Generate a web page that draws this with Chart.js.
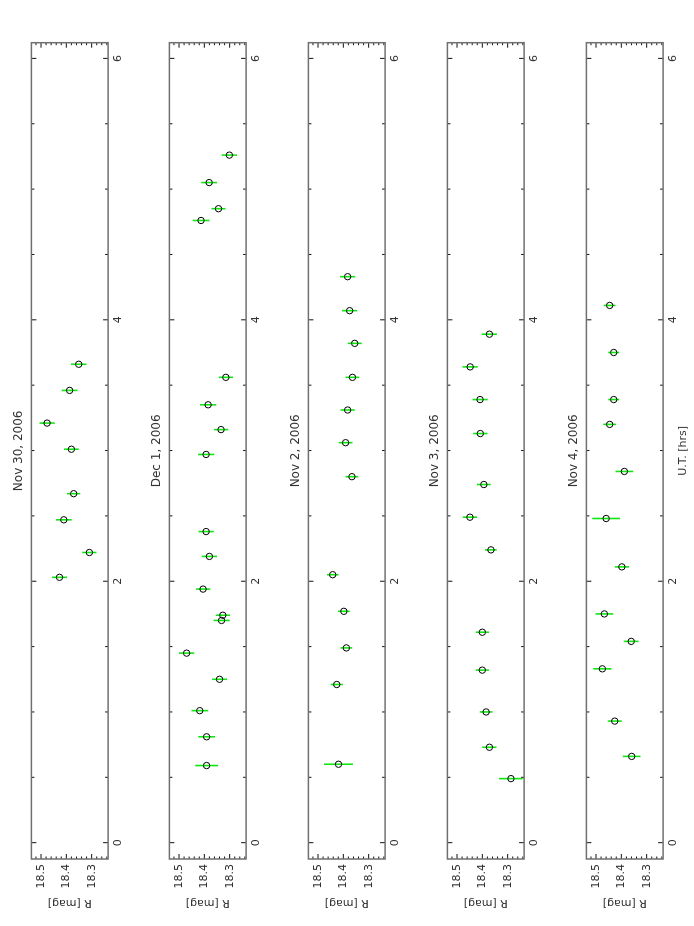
<!DOCTYPE html>
<html>
<head>
<meta charset="utf-8">
<script src="https://cdn.jsdelivr.net/npm/chart.js@4.4.1/dist/chart.umd.min.js"></script>
<style>
  html, body { margin: 0; padding: 0; background: #fff; overflow: hidden; }
  /* the figure is laid out landscape and turned a quarter turn */
  #page {
    position: absolute; left: 0; top: 0;
    width: 926px; height: 694px;
    transform-origin: 0 0;
    transform: translate(0, 926px) rotate(-90deg);
  }
  #page canvas { position: absolute; left: 0; }
</style>
</head>
<body>
<div id="page"></div>
<script>
const nights = ["Nov 30, 2006", "Dec 1, 2006", "Nov 2, 2006", "Nov 3, 2006", "Nov 4, 2006"];

const utNov30 = [3.66, 3.46, 3.21, 3.01, 2.67, 2.47, 2.22, 2.03];
const rNov30 = [18.351, 18.387, 18.476, 18.380, 18.371, 18.410, 18.309, 18.427];
const errNov30 = [0.031, 0.031, 0.030, 0.029, 0.026, 0.031, 0.028, 0.030];

const utDec1 = [5.26, 5.05, 4.85, 4.76, 3.56, 3.35, 3.16, 2.97, 2.38, 2.19, 1.94, 1.74, 1.70, 1.45, 1.25, 1.01, 0.81, 0.59];
const rDec1 = [18.301, 18.381, 18.344, 18.413, 18.315, 18.385, 18.334, 18.393, 18.393, 18.380, 18.405, 18.327, 18.332, 18.470, 18.340, 18.418, 18.391, 18.391];
const errDec1 = [0.030, 0.031, 0.028, 0.033, 0.028, 0.032, 0.028, 0.032, 0.030, 0.030, 0.028, 0.028, 0.032, 0.030, 0.030, 0.033, 0.033, 0.045];

const utNov2 = [4.33, 4.07, 3.82, 3.56, 3.31, 3.06, 2.80, 2.05, 1.77, 1.49, 1.21, 0.60];
const rNov2 = [18.383, 18.375, 18.355, 18.364, 18.383, 18.391, 18.366, 18.442, 18.398, 18.388, 18.426, 18.419];
const errNov2 = [0.030, 0.030, 0.028, 0.027, 0.028, 0.027, 0.025, 0.023, 0.023, 0.023, 0.024, 0.057];

const utNov3 = [3.89, 3.64, 3.39, 3.13, 2.74, 2.49, 2.24, 1.61, 1.32, 1.00, 0.73, 0.49];
const rNov3 = [18.372, 18.448, 18.409, 18.408, 18.394, 18.449, 18.366, 18.400, 18.400, 18.385, 18.372, 18.287];
const errNov3 = [0.030, 0.030, 0.030, 0.028, 0.027, 0.028, 0.023, 0.026, 0.026, 0.025, 0.028, 0.047];

const utNov4 = [4.11, 3.75, 3.39, 3.20, 2.84, 2.48, 2.11, 1.75, 1.54, 1.33, 0.93, 0.66];
const rNov4 = [18.446, 18.430, 18.430, 18.446, 18.388, 18.460, 18.398, 18.467, 18.361, 18.475, 18.426, 18.359];
const errNov4 = [0.023, 0.022, 0.022, 0.025, 0.035, 0.055, 0.028, 0.035, 0.029, 0.036, 0.028, 0.035];

const utTicks = [0, 2, 4, 6];
const rTicks = [18.3, 18.4, 18.5];

const panels = [
  [utNov30, rNov30, errNov30],
  [utDec1, rDec1, errDec1],
  [utNov2, rNov2, errNov2],
  [utNov3, rNov3, errNov3],
  [utNov4, rNov4, errNov4],
];

Chart.defaults.font.family = "'DejaVu Sans', sans-serif";
Chart.defaults.color = "#333";

const textFont = { family: "'DejaVu Sans', sans-serif", size: 11 };

// green R error bars, under the circles
const errorBars = {
  id: "errorBars",
  beforeDatasetsDraw(chart) {
    const { ctx, scales: { x, y } } = chart;
    const ds = chart.data.datasets[0];
    ctx.save();
    ctx.strokeStyle = "#10e610";
    ctx.lineWidth = 1.6;
    ctx.beginPath();
    ds.data.forEach((p, i) => {
      const px = x.getPixelForValue(p.x);
      ctx.moveTo(px, y.getPixelForValue(p.y - ds.err[i]));
      ctx.lineTo(px, y.getPixelForValue(p.y + ds.err[i]));
    });
    ctx.stroke();
    ctx.restore();
  },
};

// box with inward ticks on all four sides
const frame = {
  id: "frame",
  afterDraw(chart) {
    const { ctx, chartArea: a, scales: { x, y } } = chart;
    ctx.save();
    ctx.strokeStyle = "#111";
    ctx.lineWidth = 1;
    ctx.beginPath();
    for (let i = 0; i <= 12; i++) {
      const t = i * 0.5;
      const px = x.getPixelForValue(t);
      const len = utTicks.includes(t) ? 5 : 3;
      ctx.moveTo(px, a.top);
      ctx.lineTo(px, a.top + len);
      ctx.moveTo(px, a.bottom);
      ctx.lineTo(px, a.bottom - len);
    }
    for (let i = 0; i <= 14; i++) {
      const v = 18.24 + i * 0.02;
      const py = y.getPixelForValue(v);
      const major = rTicks.some((m) => Math.abs(m - v) < 0.001);
      const len = major ? 5 : 2.5;
      ctx.moveTo(a.left, py);
      ctx.lineTo(a.left + len, py);
      ctx.moveTo(a.right, py);
      ctx.lineTo(a.right - len, py);
    }
    ctx.stroke();
    ctx.strokeStyle = "#707070";
    ctx.lineWidth = 1.5;
    ctx.strokeRect(a.left, a.top, a.right - a.left, a.bottom - a.top);
    ctx.restore();
  },
};

const page = document.getElementById("page");

panels.forEach(([ut, r, err], k) => {
  const boxTop = 31 + 138.75 * k;
  const canvas = document.createElement("canvas");
  canvas.width = 926;
  canvas.height = 136;
  canvas.style.top = boxTop - 22.4 + "px";
  page.appendChild(canvas);

  new Chart(canvas, {
    type: "scatter",
    data: {
      datasets: [
        {
          data: ut.map((u, i) => ({ x: u, y: r[i] })),
          err: err,
          pointRadius: 3.2,
          pointBorderWidth: 1,
          pointBorderColor: "#000",
          pointBackgroundColor: "rgba(0,0,0,0)",
        },
      ],
    },
    options: {
      responsive: false,
      animation: false,
      layout: { padding: { left: 0, right: 42.7, top: 0, bottom: 0 } },
      plugins: {
        legend: { display: false },
        tooltip: { enabled: false },
        title: {
          display: true,
          text: nights[k],
          fullSize: false,
          color: "#333",
          font: { size: 12, weight: "normal" },
          padding: { top: 3, bottom: 5 },
        },
      },
      scales: {
        x: {
          type: "linear",
          min: -0.125,
          max: 6.12,
          grid: { display: false, drawTicks: false },
          border: { display: false },
          afterBuildTicks: (s) => {
            s.ticks = utTicks.map((v) => ({ value: v }));
          },
          afterFit: (s) => {
            s.height = 36.9;
          },
          ticks: { padding: 3, maxRotation: 0, font: textFont, callback: (v) => v },
          title: {
            display: k === 4,
            text: "U.T. [hrs]",
            font: textFont,
            padding: { top: 0, bottom: 10.5 },
          },
        },
        y: {
          type: "linear",
          min: 18.235,
          max: 18.538,
          grid: { display: false, drawTicks: false },
          border: { display: false },
          afterBuildTicks: (s) => {
            s.ticks = rTicks.map((v) => ({ value: v }));
          },
          afterFit: (s) => {
            s.width = 67;
          },
          ticks: { padding: 5, font: textFont, callback: (v) => v.toFixed(1) },
          title: {
            display: true,
            text: "R [mag]",
            font: textFont,
            padding: { top: 16.5, bottom: 0 },
          },
        },
      },
    },
    plugins: [errorBars, frame],
  });
});
</script>
</body>
</html>
